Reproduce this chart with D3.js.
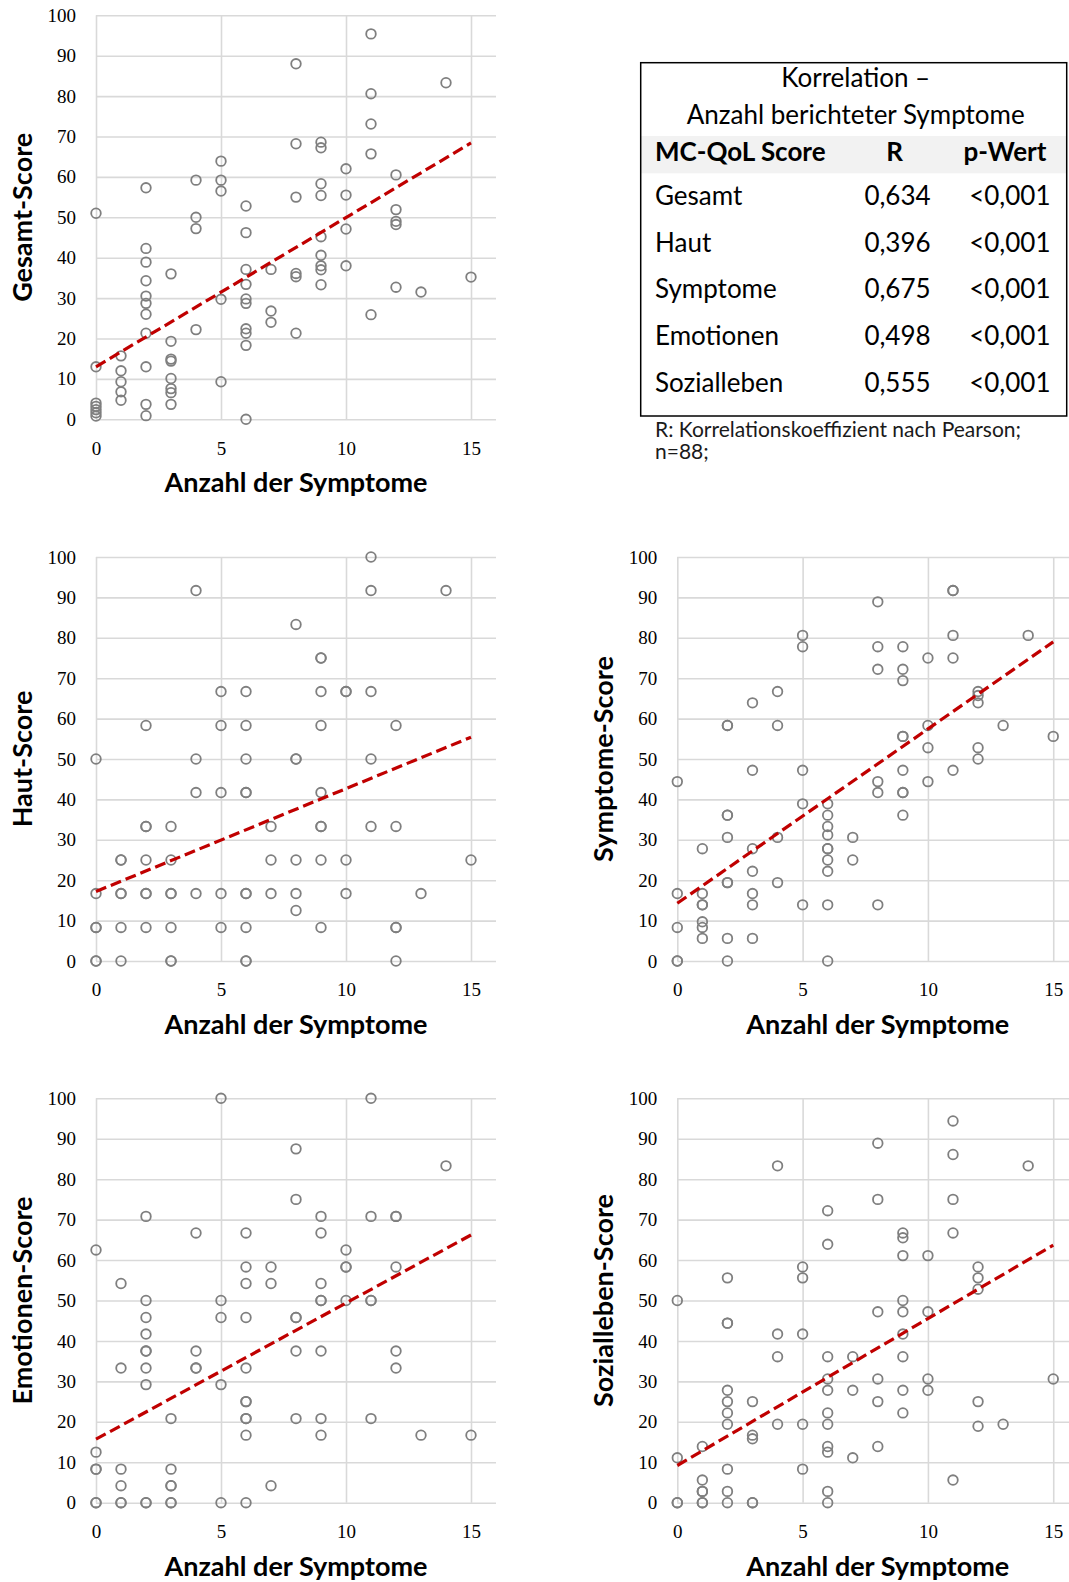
<!DOCTYPE html>
<html>
<head>
<meta charset="utf-8">
<script src="https://cdn.jsdelivr.net/npm/d3@7"></script>
<style>
  html, body { margin: 0; padding: 0; background: #ffffff; }
  svg { display: block; }
  .tick text { font-family: "Liberation Serif", "DejaVu Serif", serif; font-size: 19px; fill: #000; }
  .grid line { stroke: #d9d9d9; stroke-width: 1.6; }
  .axis-title { font-family: Lato, "Open Sans", sans-serif; font-weight: 700; font-size: 27px; fill: #000; }
  .tbl { font-family: Lato, "Open Sans", sans-serif; font-size: 26px; fill: #000; }
</style>
</head>
<body>
<script>
// Scores per number of reported symptoms: [symptom count, [scores]]
const gesamtScores = [
  [0, [51, 13, 4, 3.2, 2.4, 1.6, 0.8]],
  [1, [15.7, 12, 9.3, 6.8, 4.7]],
  [2, [57.3, 42.3, 38.9, 34.3, 30.5, 28.7, 26, 21.3, 13, 3.7, 0.9]],
  [3, [36, 19.3, 14.9, 14.4, 10.1, 7.6, 6.6, 3.7]],
  [4, [59.2, 50, 47.2, 22.2]],
  [5, [63.9, 59.2, 56.5, 29.7, 9.3]],
  [6, [52.8, 46.2, 37.1, 33.4, 29.8, 28.7, 22.4, 21.3, 18.3, 0]],
  [7, [37.1, 26.8, 24]],
  [8, [88, 68.2, 55, 36.1, 35.3, 21.3]],
  [9, [68.6, 67.2, 58.3, 55.4, 45.2, 40.6, 38, 37, 33.3]],
  [10, [62, 55.5, 47.1, 38]],
  [11, [95.4, 80.6, 73.1, 65.7, 25.9]],
  [12, [60.5, 51.9, 49, 48.2, 32.7]],
  [13, [31.5]],
  [14, [83.3]],
  [15, [35.2]]
];

const hautScores = [
  [0, [50, 16.7, 8.3, 8.3, 0, 0]],
  [1, [25, 25, 16.7, 16.7, 8.3, 0]],
  [2, [58.3, 33.3, 33.3, 25, 16.7, 16.7, 8.3]],
  [3, [33.3, 25, 16.7, 16.7, 8.3, 0, 0]],
  [4, [91.7, 50, 41.7, 16.7]],
  [5, [66.7, 58.3, 41.7, 16.7, 8.3]],
  [6, [66.7, 58.3, 50, 41.7, 41.7, 16.7, 16.7, 8.3, 0, 0]],
  [7, [33.3, 25, 16.7]],
  [8, [83.3, 50, 50, 25, 16.7, 12.5]],
  [9, [75, 75, 66.7, 58.3, 41.7, 33.3, 33.3, 25, 8.3]],
  [10, [66.7, 66.7, 25, 16.7]],
  [11, [100, 91.7, 66.7, 50, 33.3]],
  [12, [58.3, 33.3, 8.3, 8.3, 0]],
  [13, [16.7]],
  [14, [91.7]],
  [15, [25]]
];

const symptomeScores = [
  [0, [44.4, 16.7, 8.3, 0, 0]],
  [1, [27.8, 16.7, 13.9, 13.9, 9.7, 8.3, 5.6]],
  [2, [58.3, 58.3, 36.1, 36.1, 30.6, 19.4, 19.4, 5.6, 0]],
  [3, [63.9, 47.2, 27.8, 22.2, 16.7, 13.9, 5.6]],
  [4, [66.7, 58.3, 30.6, 19.4]],
  [5, [80.6, 77.8, 47.2, 38.9, 13.9]],
  [6, [38.9, 36.1, 33.3, 31.2, 27.8, 27.8, 25, 22.2, 13.9, 0]],
  [7, [30.6, 25]],
  [8, [88.9, 77.8, 72.2, 44.4, 41.7, 13.9]],
  [9, [77.8, 72.2, 69.4, 55.6, 55.6, 47.2, 41.7, 41.7, 36.1]],
  [10, [75, 58.3, 52.8, 44.4]],
  [11, [91.7, 91.7, 80.6, 75, 47.2]],
  [12, [66.7, 65.7, 63.9, 52.8, 50]],
  [13, [58.3]],
  [14, [80.6]],
  [15, [55.6]]
];

const emotionenScores = [
  [0, [62.5, 12.5, 8.3, 8.3, 0, 0]],
  [1, [54.2, 33.3, 8.3, 4.2, 0, 0]],
  [2, [70.8, 50, 45.8, 41.7, 37.5, 37.5, 33.3, 29.2, 0, 0]],
  [3, [20.8, 8.3, 4.2, 4.2, 0, 0]],
  [4, [66.7, 37.5, 33.3, 33.3]],
  [5, [100, 50, 45.8, 29.2, 0]],
  [6, [66.7, 58.3, 54.2, 45.8, 33.3, 25, 25, 20.8, 20.8, 16.7, 0]],
  [7, [58.3, 54.2, 4.2]],
  [8, [87.5, 75, 45.8, 45.8, 37.5, 20.8]],
  [9, [70.8, 66.7, 54.2, 50, 50, 37.5, 20.8, 16.7]],
  [10, [62.5, 58.3, 58.3, 50]],
  [11, [100, 70.8, 50, 50, 20.8]],
  [12, [70.8, 70.8, 58.3, 37.5, 33.3]],
  [13, [16.7]],
  [14, [83.3]],
  [15, [16.7]]
];

const sozialScores = [
  [0, [50, 11.1, 0, 0]],
  [1, [13.9, 5.6, 2.8, 2.8, 0, 0]],
  [2, [55.6, 44.4, 44.4, 27.8, 25, 22.2, 19.4, 8.3, 2.8, 0]],
  [3, [25, 16.7, 15.8, 0, 0]],
  [4, [83.3, 41.7, 36.1, 19.4]],
  [5, [58.3, 55.6, 41.7, 19.4, 8.3]],
  [6, [72.2, 63.9, 36.1, 30.6, 27.8, 22.2, 19.4, 13.9, 12.5, 2.8, 0]],
  [7, [36.1, 27.8, 11.1]],
  [8, [88.9, 75, 47.2, 30.6, 25, 13.9]],
  [9, [66.7, 65.5, 61.1, 50, 47.2, 41.7, 36.1, 27.8, 22.2]],
  [10, [61.1, 47.2, 30.6, 27.8]],
  [11, [94.4, 86.1, 75, 66.7, 5.6]],
  [12, [58.3, 55.6, 52.8, 25, 18.9]],
  [13, [19.4]],
  [14, [83.3]],
  [15, [30.6]]
];

// Linear trend line of each score: value at 0 and at 15 symptoms
const trendAt0 = [13.0, 17.2, 14.3, 15.7, 9.2];
const trendAt15 = [68.4, 55.4, 79.0, 66.2, 63.7];

const yTitles = ["Gesamt-Score", "Haut-Score", "Symptome-Score", "Emotionen-Score", "Sozialleben-Score"];
const xTitle = "Anzahl der Symptome";
const xTicks = [0, 5, 10, 15];
const yTicks = [0, 10, 20, 30, 40, 50, 60, 70, 80, 90, 100];

// Correlation table
const tableTitle = ["Korrelation –", "Anzahl berichteter Symptome"];
const tableHeader = ["MC-QoL Score", "R", "p-Wert"];
const tableScores = ["Gesamt", "Haut", "Symptome", "Emotionen", "Sozialleben"];
const tableR = ["0,634", "0,396", "0,675", "0,498", "0,555"];
const tableP = ["<0,001", "<0,001", "<0,001", "<0,001", "<0,001"];
const tableNote = ["R: Korrelationskoeffizient nach Pearson;", "n=88;"];

const W = 1069, H = 1582;
const svg = d3.select("body").append("svg").attr("width", W).attr("height", H);

// plot areas: left, top, width, height
const panels = [
  { data: gesamtScores,    left: 96,    top: 15.3,   w: 400, h: 404 },
  { data: hautScores,      left: 96,    top: 557,    w: 400, h: 404 },
  { data: symptomeScores,  left: 677.3, top: 557,    w: 401, h: 404 },
  { data: emotionenScores, left: 96,    top: 1098.3, w: 400, h: 404.4 },
  { data: sozialScores,    left: 677.3, top: 1098.3, w: 401, h: 404.4 }
];

panels.forEach((p, i) => {
  const g = svg.append("g").attr("transform", `translate(${p.left},${p.top})`);
  const x = d3.scaleLinear().domain([0, 16]).range([0, p.w]);
  const y = d3.scaleLinear().domain([0, 100]).range([p.h, 0]);

  // horizontal gridlines + y tick labels
  g.append("g").attr("class", "grid")
    .call(d3.axisLeft(y).tickValues(yTicks).tickSize(-p.w).tickPadding(20))
    .call(a => a.select(".domain").remove());

  // vertical gridlines + x tick labels
  g.append("g").attr("class", "grid")
    .attr("transform", `translate(0,${p.h})`)
    .call(d3.axisBottom(x).tickValues(xTicks).tickSize(-p.h).tickPadding(22))
    .call(a => a.select(".domain").remove());

  // points
  const pts = p.data.flatMap(([n, vals]) => vals.map(v => ({ n, v })));
  g.append("g").selectAll("circle").data(pts).join("circle")
    .attr("cx", d => x(d.n)).attr("cy", d => y(d.v)).attr("r", 4.8)
    .attr("fill", "none").attr("stroke", "#7f7f7f").attr("stroke-width", 1.8);

  // trend line
  g.append("line")
    .attr("x1", x(0)).attr("y1", y(trendAt0[i]))
    .attr("x2", x(15)).attr("y2", y(trendAt15[i]))
    .attr("stroke", "#c00000").attr("stroke-width", 3.2)
    .attr("stroke-dasharray", "11,5");

  // axis titles
  g.append("text").attr("class", "axis-title")
    .attr("x", p.w / 2).attr("y", p.h + 73)
    .attr("text-anchor", "middle").text(xTitle);
  g.append("text").attr("class", "axis-title")
    .attr("transform", `translate(-64,${p.h / 2}) rotate(-90)`)
    .attr("text-anchor", "middle").text(yTitles[i]);
});

// Correlation table
const tb = { left: 640.7, top: 62.7, right: 1066.7, bottom: 416 };
const tg = svg.append("g");
tg.append("rect")
  .attr("x", tb.left).attr("y", 136).attr("width", tb.right - tb.left).attr("height", 37.3)
  .attr("fill", "#f2f2f2");
tg.append("rect")
  .attr("x", tb.left).attr("y", tb.top).attr("width", tb.right - tb.left).attr("height", tb.bottom - tb.top)
  .attr("fill", "none").attr("stroke", "#000").attr("stroke-width", 1.5);

const cx = (tb.left + tb.right) / 2;
tg.selectAll("text.title").data(tableTitle).join("text")
  .attr("class", "tbl title").attr("x", cx + 2).attr("y", (d, k) => 87 + k * 37)
  .attr("text-anchor", "middle").text(d => d);

const colName = 655, colR = 897.5, colP = 1050.5;
const header = tg.append("g").attr("font-weight", 700);
header.append("text").attr("class", "tbl").attr("x", colName).attr("y", 161).text(tableHeader[0]);
header.append("text").attr("class", "tbl").attr("x", colR - 3).attr("y", 161).attr("text-anchor", "middle").text(tableHeader[1]);
header.append("text").attr("class", "tbl").attr("x", colP - 4).attr("y", 161).attr("text-anchor", "end").text(tableHeader[2]);

const rowY = k => 205 + k * 46.7;
tg.selectAll("text.name").data(tableScores).join("text")
  .attr("class", "tbl name").attr("x", colName).attr("y", (d, k) => rowY(k)).text(d => d);
tg.selectAll("text.r").data(tableR).join("text")
  .attr("class", "tbl r").attr("x", colR).attr("y", (d, k) => rowY(k))
  .attr("text-anchor", "middle").text(d => d);
tg.selectAll("text.p").data(tableP).join("text")
  .attr("class", "tbl p").attr("x", colP).attr("y", (d, k) => rowY(k))
  .attr("text-anchor", "end").text(d => d);

tg.selectAll("text.note").data(tableNote).join("text")
  .attr("class", "tbl note").attr("x", colName).attr("y", (d, k) => 437 + k * 22)
  .style("font-size", "21px").style("fill", "#1a1a1a").text(d => d);
</script>
</body>
</html>
